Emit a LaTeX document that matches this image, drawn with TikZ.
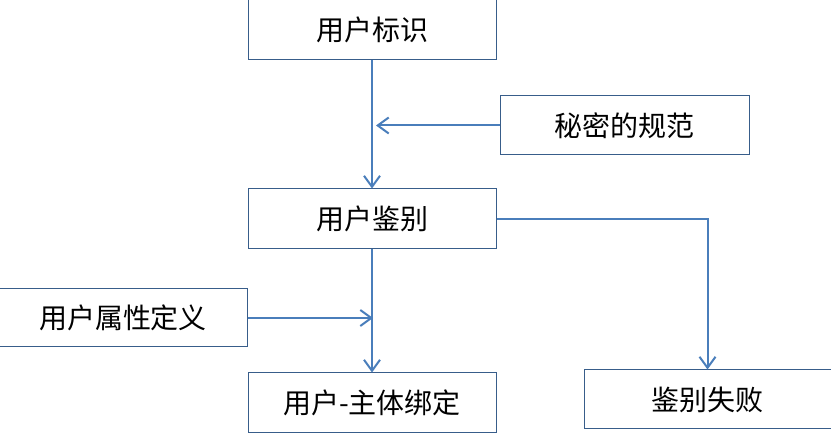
\documentclass[tikz,border=0pt]{standalone}
\usepackage{fontspec}
\newfontfamily\cjk{Noto Sans CJK SC}
\usepackage{xcolor}
\usetikzlibrary{arrows.meta, positioning}
\definecolor{boxline}{RGB}{56,93,138}
\definecolor{arrowline}{RGB}{74,126,187}

\begin{document}
\begin{tikzpicture}[
    x=1pt, y=1pt,
    box/.style={rectangle, draw=boxline, line width=1pt, minimum width=248pt, minimum height=60pt, inner sep=0pt, font=\cjk\fontsize{28}{32}\selectfont},
    arrow/.style={-{Straight Barb[length=11pt, width=16pt]}, draw=arrowline, line width=2pt}
]
\useasboundingbox (0,0) rectangle (831,-438);

\node[box] (ident) at (372,-30) {用户标识};
\node[box, below right=35pt and 3pt of ident, minimum width=249pt, minimum height=59pt] (secret) {秘密的规范};
\node[box, below=128pt of ident] (auth) {用户鉴别};
\node[box, below left=39pt and 0pt of auth, minimum height=58pt] (attr) {用户属性定义};
\node[box, below=123pt of auth] (bind) {用户-主体绑定};
\node[box, below right=120pt and 87pt of auth, minimum width=247pt, minimum height=59pt] (fail) {鉴别失败};

\draw[arrow] (ident) -- (auth);
\draw[arrow] (secret) -- ([xshift=4pt]secret.west -| ident.south);
\draw[arrow] (auth) -- (bind);
\draw[arrow] (attr) -- ([xshift=1pt]attr.east -| auth.south);

% failure branch
\draw[arrow] (auth.east) -| (fail.north);

\end{tikzpicture}
\end{document}
